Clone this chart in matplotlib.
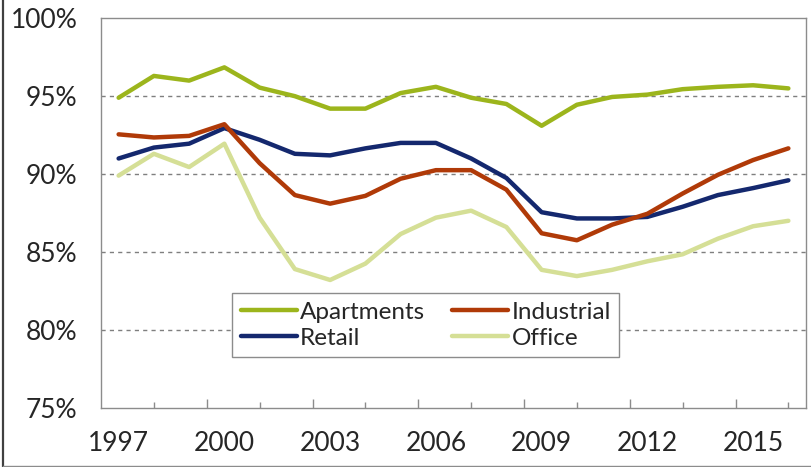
import matplotlib
matplotlib.use("Agg")
import matplotlib.pyplot as plt
from matplotlib.lines import Line2D
from matplotlib.ticker import FixedLocator, PercentFormatter

# Annual occupancy rates, 1997-2016 (percent)
years = list(range(1997, 2017))
apartments = [94.9, 96.3, 96.0, 96.85, 95.55, 95.0, 94.2, 94.2, 95.2, 95.6,
              94.9, 94.5, 93.1, 94.45, 94.95, 95.1, 95.45, 95.6, 95.7, 95.5]
industrial = [92.55, 92.35, 92.45, 93.2, 90.7, 88.65, 88.1, 88.6, 89.7, 90.25,
              90.25, 89.0, 86.2, 85.75, 86.75, 87.45, 88.75, 89.95, 90.9, 91.65]
retail = [91.0, 91.7, 91.95, 92.95, 92.2, 91.3, 91.2, 91.65, 92.0, 92.0,
          91.0, 89.75, 87.55, 87.15, 87.15, 87.25, 87.9, 88.65, 89.1, 89.6]
office = [89.9, 91.3, 90.45, 91.95, 87.2, 83.9, 83.2, 84.25, 86.15, 87.2,
          87.65, 86.6, 83.85, 83.45, 83.85, 84.4, 84.85, 85.85, 86.65, 87.0]

series = [
    ("Apartments", apartments, "#9cb51c"),
    ("Retail", retail, "#14286e"),
    ("Industrial", industrial, "#b03a08"),
    ("Office", office, "#d5df96"),
]
year_labels = [str(y) for y in years[::3]]

plt.rcParams["font.family"] = ["Lato", "DejaVu Sans"]
text_col = "#262626"
frame_col = "#8c8c8c"

fig = plt.figure(figsize=(8.11, 4.67), dpi=100)
ax = fig.add_axes([101 / 811, 1 - 407.7 / 467, 705 / 811, 389.4 / 467])

x = list(range(len(years)))
handles = []
for name, vals, col in series:
    (ln,) = ax.plot(x, vals, color=col, lw=3.2, solid_capstyle="round",
                    solid_joinstyle="round", label=name)
    handles.append(ln)

ax.set_xlim(-0.5, len(years) - 0.5)
ax.set_ylim(75, 100)
ax.yaxis.set_major_locator(FixedLocator([75, 80, 85, 90, 95, 100]))
ax.yaxis.set_major_formatter(PercentFormatter(decimals=0))
for g in (80, 85, 90, 95):
    ax.axhline(g, color="#7f7f7f", lw=1, ls=(0, (3, 3)), zorder=0)

# category labels every third year, drawn without tick marks
ax.set_xticks(x[::3])
ax.set_xticklabels(year_labels)
ax.tick_params(axis="x", which="major", length=0, pad=17, labelsize=19,
               labelcolor=text_col)
ax.tick_params(axis="y", length=0, pad=17, labelsize=19, labelcolor=text_col)

# short inward marks at the category centres, tall ones at group boundaries
ax.set_xticks([1 + 3 * k for k in range(7)], minor=True)
ax.tick_params(axis="x", which="minor", direction="in", length=4.3,
               width=1, color=frame_col)
sec = ax.secondary_xaxis("bottom")
sec.set_xticks([2.5 + 3 * k for k in range(6)])
sec.tick_params(direction="in", length=6.5, width=1, color=frame_col,
                labelbottom=False)
sec.spines["bottom"].set_visible(False)

for sp in ax.spines.values():
    sp.set_color(frame_col)
    sp.set_linewidth(1)

# column-major order so the rows read Apartments/Industrial, Retail/Office
leg = ax.legend(handles, [h.get_label() for h in handles],
                ncol=2, loc="lower left", bbox_to_anchor=(0.186, 0.13),
                fontsize=17.5, frameon=True, fancybox=False, framealpha=1,
                edgecolor=frame_col, handlelength=2.3, handletextpad=0.15,
                columnspacing=1.1, labelspacing=0.2, borderpad=0.35,
                borderaxespad=0)
leg.get_frame().set_linewidth(1)
for t in leg.get_texts():
    t.set_color(text_col)

# outer chart border (left and bottom edges visible)
fig.add_artist(Line2D([3 / 811, 3 / 811], [1 - 465.5 / 467, 1.0],
                      transform=fig.transFigure, color="#404040", lw=1.6))
fig.add_artist(Line2D([3 / 811, 1.0], [1 - 465.5 / 467, 1 - 465.5 / 467],
                      transform=fig.transFigure, color="#8c8c8c", lw=1))

fig.savefig("out.png", dpi=100)
